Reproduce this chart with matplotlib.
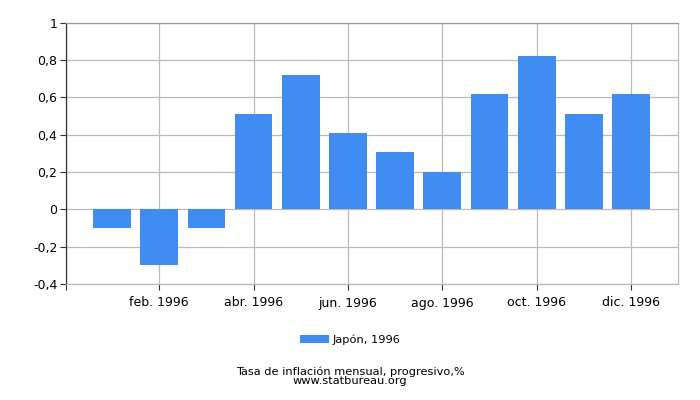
import matplotlib
matplotlib.use('Agg')
import matplotlib.pyplot as plt

# data
months = list(range(1, 13))
values = [-0.1, -0.3, -0.1, 0.51, 0.72, 0.41, 0.31, 0.2, 0.62, 0.82, 0.51, 0.62]
tick_months = [2, 4, 6, 8, 10, 12]
tick_labels = ['feb. 1996', 'abr. 1996', 'jun. 1996', 'ago. 1996', 'oct. 1996', 'dic. 1996']
y_ticks = [-0.4, -0.2, 0, 0.2, 0.4, 0.6, 0.8, 1]
y_labels = ['-0,4', '-0,2', '0', '0,2', '0,4', '0,6', '0,8', '1']

plt.rcParams['font.family'] = 'DejaVu Sans'
fs = 9
fs_small = 8.2

fig = plt.figure(figsize=(7, 4), dpi=100)
ax = fig.add_axes([0.094, 0.29, 0.875, 0.653])

ax.bar(months, values, width=0.8, color='#418cf0', label='Japón, 1996', zorder=2)

ax.set_xlim(0.02, 13)
ax.set_ylim(-0.4, 1)
ax.set_xticks([0.02] + tick_months)
ax.set_xticklabels([''] + tick_labels, fontsize=fs)
ax.set_yticks(y_ticks)
ax.set_yticklabels(y_labels, fontsize=fs)

ax.grid(True, color='#bbbbbb', linewidth=0.9, zorder=0)
ax.set_axisbelow(True)
ax.tick_params(axis='both', length=4, width=0.8, color='#333333')
ax.tick_params(axis='x', pad=5)
ax.tick_params(axis='y', pad=2)

ax.spines['left'].set_color('#333333')
ax.spines['bottom'].set_color('#bbbbbb')
ax.spines['top'].set_color('#999999')
ax.spines['right'].set_color('#bbbbbb')
for s in ax.spines.values():
    s.set_linewidth(0.9)

fig.legend(loc='center', bbox_to_anchor=(0.5, 0.15), frameon=False, fontsize=fs_small,
           handlelength=2.6, handleheight=0.75, handletextpad=0.3)
fig.text(0.5, 0.06, 'Tasa de inflación mensual, progresivo,%\nwww.statbureau.org',
         ha='center', va='center', fontsize=fs_small, linespacing=0.9)

fig.savefig('out.png', dpi=100)
